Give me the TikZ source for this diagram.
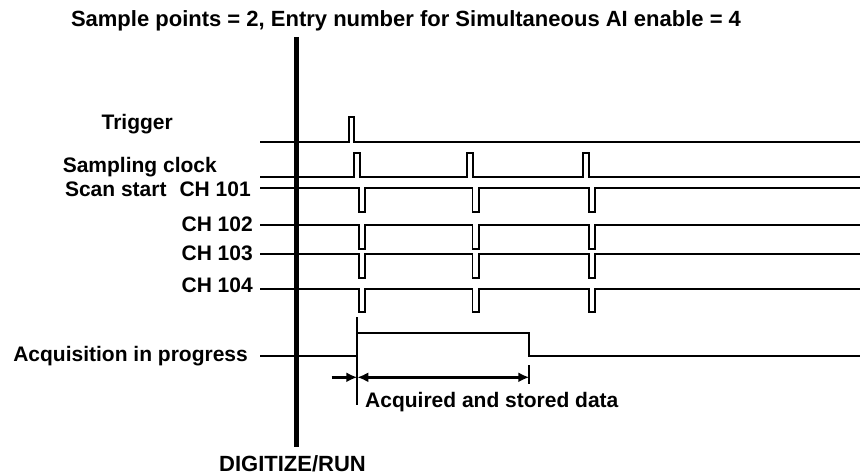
\documentclass[tikz,border=0pt]{standalone}
\usepackage{fontspec}
\setmainfont{Liberation Sans}
\usetikzlibrary{arrows.meta}
\begin{document}
\begin{tikzpicture}[x=1pt,y=-1pt,
  sig/.style={line width=1.9pt, line join=miter},
  lbl/.style={inner sep=0pt, font=\fontsize{21}{24}\selectfont\bfseries},
  arr/.style={line width=2.6pt, -{Latex[length=11pt,width=10pt]}},
  darr/.style={line width=2.6pt, {Latex[length=11pt,width=10pt]}-{Latex[length=11pt,width=10pt]}}]
\useasboundingbox (0,0) rectangle (860,476);
% texts
\node[lbl, anchor=base, font=\fontsize{22}{25}\selectfont\bfseries] (title) at (406,26.5) {Sample points = 2, Entry number for Simultaneous AI enable = 4};
\node[lbl, anchor=base east] (ltrig) at (173,130) {Trigger};
\node[lbl, anchor=base east] (lclk) at (217,172.3) {Sampling clock};
\node[lbl, anchor=base east] (l101) at (251,196.7) {Scan start\hspace{13pt}CH 101};
\node[lbl, anchor=base east] (l102) at (253,231.7) {CH 102};
\node[lbl, anchor=base east] (l103) at (253,260.7) {CH 103};
\node[lbl, anchor=base east] (l104) at (253,292.7) {CH 104};
\node[lbl, anchor=base east] (lacq) at (248,361.7) {Acquisition in progress};
\node[lbl, anchor=base west] (lstore) at (365,407.3) {Acquired and stored data};
\node[lbl, anchor=base, font=\fontsize{22}{25}\selectfont\bfseries] (ldig) at (292.5,471.7) {DIGITIZE/RUN};
% DIGITIZE/RUN bar
\coordinate (bartop) at (296.5,37);
\coordinate (barbot) at (296.5,447);
\draw[line width=4.3pt] (bartop) -- (barbot);
% Trigger
\draw[sig] (260,141.7) -- (349,141.7) -- (349,117.3) -- (354.3,117.3) -- (354.3,141.7) -- (860,141.7);
% Sampling clock
\draw[sig] (260,177.3) \foreach \a in {354,467.3,583.3} { -- (\a,177.3) -- (\a,153.3) -- (\a+6,153.3) -- (\a+6,177.3) } -- (860,177.3);
% channels
\foreach \y/\d in {187.7/24, 225/24, 254/24.3, 289/22.7} {
  \draw[sig] (260,\y) \foreach \a in {359,472.5,589} { -- (\a,\y) -- (\a,\y+\d) -- (\a+6.3,\y+\d) -- (\a+6.3,\y) } -- (860,\y);
}
% Acquisition in progress
\coordinate (acqstart) at (357.3,356);
\coordinate (acqend) at (529.3,356);
\draw[sig] (260,356) -- (acqstart) -- (357.3,333.3) -- (529.3,333.3) -- (acqend) -- (860,356);
\coordinate (mtop) at (357.3,317);
\coordinate (mbot) at (357.3,405);
\draw[sig] (mtop) -- (mbot);
\coordinate (ttop) at (529.3,365);
\coordinate (tbot) at (529.3,384);
\draw[sig] (ttop) -- (tbot);
\coordinate (a0) at (331.7,377.3);
\coordinate (a1) at (357.3,377.3);
\coordinate (a2) at (529.3,377.3);
\draw[arr] (a0) -- (a1);
\draw[darr] (a1) -- (a2);
\end{tikzpicture}
\end{document}
